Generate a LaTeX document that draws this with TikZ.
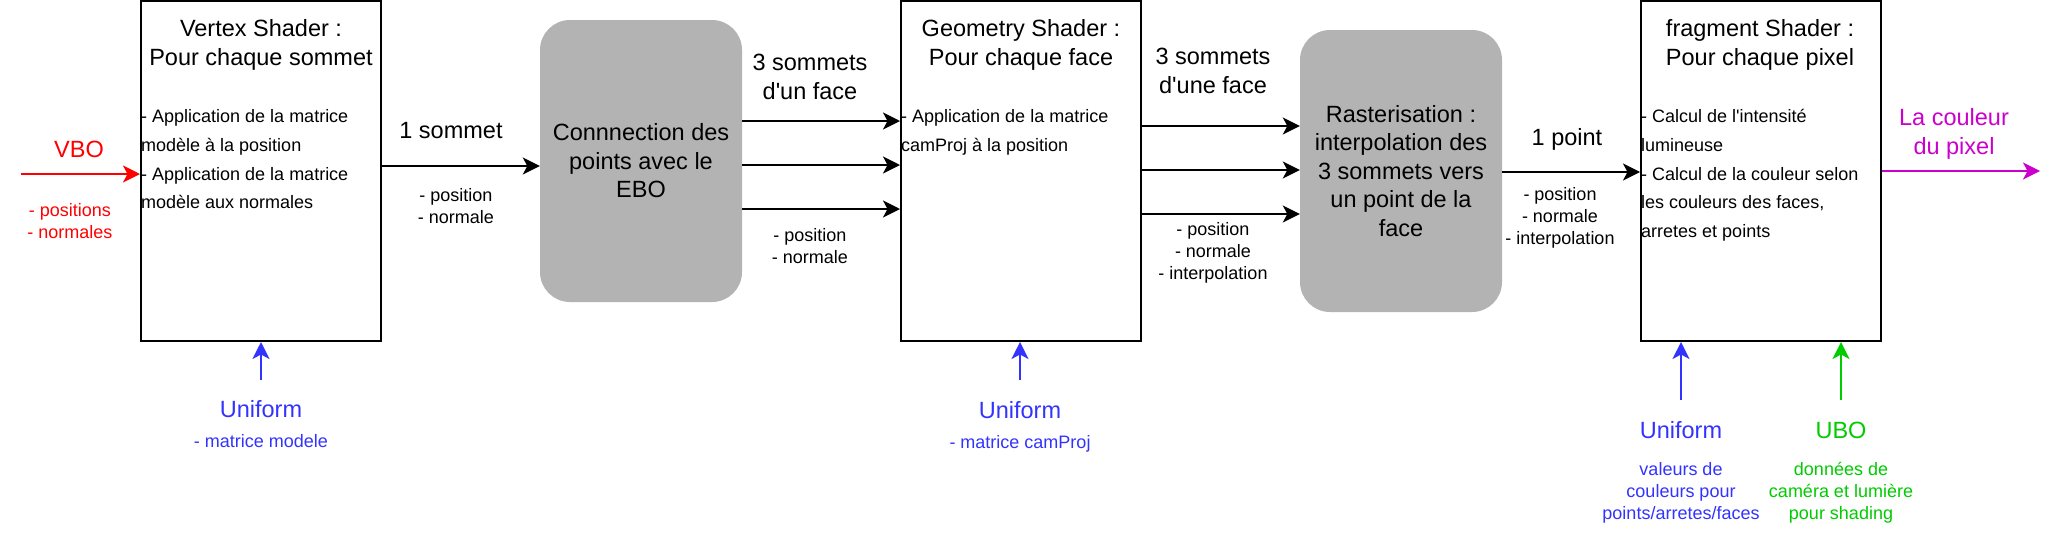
\documentclass[tikz,border=0pt]{standalone}
\usepackage{fontspec}
\setmainfont{Liberation Sans}[Ligatures=TeXOff]
\usetikzlibrary{arrows.meta}
\definecolor{vred}{HTML}{FF0000}
\definecolor{ublue}{HTML}{3333FF}
\definecolor{ugreen}{HTML}{00CC00}
\definecolor{outmag}{HTML}{CC00CC}
\definecolor{stagegray}{HTML}{B3B3B3}
\begin{document}
\begin{tikzpicture}[x=1pt,y=1pt,
  shader/.style={draw=black, line width=2pt, minimum width=240pt, minimum height=340pt, inner sep=0pt, fill=white},
  stage/.style={fill=stagegray, rounded corners=30pt, minimum width=202pt, minimum height=282pt, inner sep=0pt, align=center, font=\fontsize{23.5}{28.5}\selectfont},
  big/.style={font=\fontsize{23.5}{28.5}\selectfont, inner sep=0pt, align=center, anchor=north},
  small/.style={font=\fontsize{18}{21.7}\selectfont, inner sep=0pt, align=center, anchor=north},
  body/.style={font=\fontsize{18}{28.7}\selectfont, inner sep=0pt, align=left, anchor=north west},
  flow/.style={line width=2pt, -{Stealth[length=17pt,width=17pt,inset=4.5pt]}},
]
\fill[white] (0,0) rectangle (2058,-542);
\useasboundingbox (0,0) rectangle (2058,-542);

% boxes
\node[shader] (vs) at (261,-171) {};
\node[stage] (ebo) at (641,-161) {Connnection des\\points avec le\\EBO};
\node[shader] (gs) at (1021,-171) {};
\node[stage] (ras) at (1401,-171) {Rasterisation :\\interpolation des\\3 sommets vers\\un point de la\\face};
\node[shader] (fs) at (1761,-171) {};

% box texts
\node[big] (vst) at (261,-16.5) {\strut Vertex Shader :\\Pour chaque sommet};
\node[body] (vsb) at (141,-102.4) {\strut - Application de la matrice\\modèle à la position\\- Application de la matrice\\modèle aux normales};
\node[big] (gst) at (1021,-16.5) {\strut Geometry Shader :\\Pour chaque face};
\node[body] (gsb) at (901,-102.4) {\strut - Application de la matrice\\camProj à la position};
\node[big] (fst) at (1760,-16.5) {\strut fragment Shader :\\Pour chaque pixel};
\node[body] (fsb) at (1641,-102.4) {\strut - Calcul de l'intensité\\lumineuse\\- Calcul de la couleur selon\\les couleurs des faces,\\arretes et points};

% input VBO
\node[big, text=vred] (vbo) at (79,-137.5) {\strut VBO};
\node[small, text=vred] (vbot) at (70,-201.3) {\strut - positions\\- normales};
\coordinate (vboin) at (21,-174);
\draw[flow, draw=vred] (vboin) -- (vboin -| vs.west);

% vertex -> EBO
\node[big] (l1) at (451,-118.5) {\strut 1 sommet};
\node[small] (l1t) at (456,-186.3) {\strut - position\\- normale};
\draw[flow] ([yshift=5pt]vs.east) -- ([yshift=5pt]vs.east -| ebo.west);

% EBO -> geometry
\node[big] (l2) at (810,-50.5) {\strut 3 sommets\\d'un face};
\node[small] (l2t) at (810,-226.3) {\strut - position\\- normale};
\draw[flow] ([yshift=40pt]ebo.east) -- ([yshift=40pt]ebo.east -| gs.west);
\draw[flow] ([yshift=-4pt]ebo.east) -- ([yshift=-4pt]ebo.east -| gs.west);
\draw[flow] ([yshift=-48pt]ebo.east) -- ([yshift=-48pt]ebo.east -| gs.west);

% geometry -> rasterisation
\node[big] (l3) at (1213,-44.5) {\strut 3 sommets\\d'une face};
\node[small] (l3t) at (1213,-220.3) {\strut - position\\- normale\\- interpolation};
\draw[flow] ([yshift=45pt]gs.east) -- ([yshift=45pt]gs.east -| ras.west);
\draw[flow] ([yshift=1pt]gs.east) -- ([yshift=1pt]gs.east -| ras.west);
\draw[flow] ([yshift=-43pt]gs.east) -- ([yshift=-43pt]gs.east -| ras.west);

% rasterisation -> fragment
\node[big] (l4) at (1567,-125.5) {\strut 1 point};
\node[small] (l4t) at (1560,-185.3) {\strut - position\\- normale\\- interpolation};
\draw[flow] ([yshift=-1pt]ras.east) -- ([yshift=-1pt]ras.east -| fs.west);

% output
\node[big, text=outmag] (outl) at (1954,-105.5) {\strut La couleur\\du pixel};
\coordinate (out) at (2040,-171);
\draw[flow, draw=outmag] (fs.east) -- (out);

% uniforms
\node[big, text=ublue] (vun) at (261,-397.5) {\strut Uniform};
\node[small, text=ublue] (vunt) at (261,-432.3) {\strut - matrice modele};
\coordinate (u1) at (261,-380);
\draw[flow, draw=ublue] (u1) -- (u1 |- vs.south);

\node[big, text=ublue] (gun) at (1020,-398.5) {\strut Uniform};
\node[small, text=ublue] (gunt) at (1020,-433.3) {\strut - matrice camProj};
\coordinate (u2) at (1020,-380);
\draw[flow, draw=ublue] (u2) -- (u2 |- gs.south);

\node[big, text=ublue] (fun) at (1681,-418.5) {\strut Uniform};
\node[small, text=ublue] (funt) at (1681,-460.3) {\strut valeurs de\\couleurs pour\\points/arretes/faces};
\coordinate (u3) at (1681,-400);
\draw[flow, draw=ublue] (u3) -- (u3 |- fs.south);

\node[big, text=ugreen] (ubo) at (1841,-418.5) {\strut UBO};
\node[small, text=ugreen] (ubot) at (1841,-460.3) {\strut données de\\caméra et lumière\\pour shading};
\coordinate (u4) at (1841,-400);
\draw[flow, draw=ugreen] (u4) -- (u4 |- fs.south);
\end{tikzpicture}
\end{document}
